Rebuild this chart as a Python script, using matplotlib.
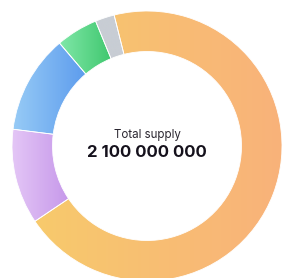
import numpy as np
from matplotlib import pyplot as plt
import matplotlib.colors as mcolors

# shares of the total supply, in percent, going clockwise from the top
shares = [69.5, 11.4, 11.8, 5.0, 2.3]
# left / right colour of the horizontal gradient in each slice
grad_left = ['#f7ca6c', '#e4c6f6', '#97cbf6', '#80e7a8', '#c8cdd4']
grad_right = ['#f9b27a', '#c698ea', '#5d9ced', '#3fc76e', '#c8cdd4']
title_text = 'Total supply'
total_text = '2 100 000 000'

plt.rcParams['font.family'] = ['Inter', 'DejaVu Sans']

fig = plt.figure(figsize=(2.84, 2.78), dpi=100)
ax = fig.add_axes([0, 0, 1, 1])

wedges, _ = ax.pie(shares, startangle=104.1, counterclock=False, radius=1.0,
                   wedgeprops=dict(width=0.30, edgecolor='white', linewidth=0.6))

# fill each wedge with a left-to-right gradient clipped to the wedge
for w, c1, c2 in zip(wedges, grad_left, grad_right):
    w.set_facecolor('none')
    bb = w.get_path().get_extents(w.get_patch_transform())
    cmap = mcolors.LinearSegmentedColormap.from_list('g', [c1, c2])
    grad = np.linspace(0, 1, 256).reshape(1, -1)
    im = ax.imshow(grad, cmap=cmap, aspect='auto', interpolation='bilinear',
                   extent=[bb.x0, bb.x1, bb.y0, bb.y1], zorder=1)
    im.set_clip_path(w)
    w.set_zorder(2)

ax.text(0.0, 0.081, title_text, ha='center', va='center', fontsize=8.3, color='#2a2630')
ax.text(0.0, -0.05, total_text, ha='center', va='center', fontsize=12,
        fontweight='bold', color='#15111c')

# centre at (147, 146) px, radius 135 px; bottom of the ring is cut off
ax.set_xlim(-147 / 135, 137 / 135)
ax.set_ylim(-132 / 135, 146 / 135)
ax.set_aspect('auto')
ax.axis('off')

fig.savefig('out.png', dpi=100)
